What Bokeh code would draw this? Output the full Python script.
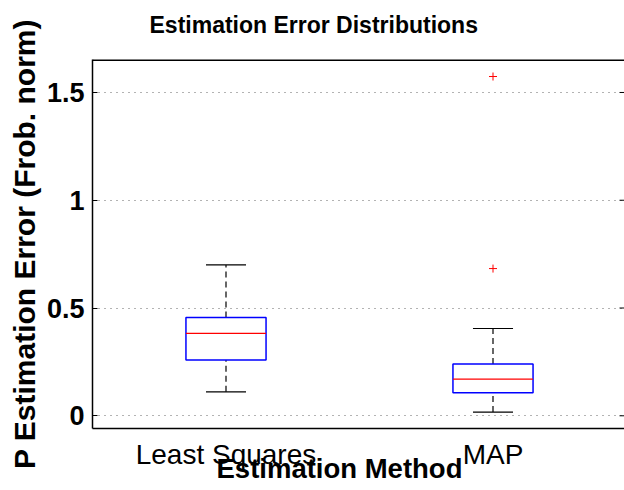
from bokeh.plotting import figure
from bokeh.models import FixedTicker, Range1d, Title, Span
from bokeh.embed import file_html
from bokeh.resources import INLINE

# ---- data ----
categories = ["Least Squares", "MAP"]
positions = [1, 2]
q1 = [0.259, 0.107]
medians = [0.382, 0.170]
q3 = [0.456, 0.240]
whisker_low = [0.111, 0.017]
whisker_high = [0.700, 0.405]
outlier_pos = [2, 2]
outlier_vals = [1.574, 0.683]
y_ticks = [0, 0.5, 1, 1.5]

FONT = "Liberation Sans"
BOX_HALF = 0.15
CAP_HALF = 0.075
FRAME_W = 532
X_START, X_END = 0.5, 0.5 + FRAME_W / 267
Y_START, Y_END = -0.059, 1.653

p = figure(width=624, height=490, output_backend="svg", toolbar_location=None,
           x_range=Range1d(X_START, X_END), y_range=Range1d(Y_START, Y_END),
           min_border_left=92, min_border_right=0, min_border_top=59, min_border_bottom=62)
# trailing blank line lifts the title higher above the frame
p.title = Title(text="Estimation Error Distributions\n", align="left", offset=57,
                vertical_align="bottom",
                text_font=FONT, text_font_size="23px", text_font_style="bold",
                text_color="black", standoff=-9)

p.background_fill_color = "white"
p.border_fill_color = "white"
p.outline_line_color = None
# top frame edge (the right edge lies outside the picture in the reference)
p.add_layout(Span(location=Y_END, dimension="width", line_color="black", line_width=3))

# grid
p.xgrid.visible = False
p.ygrid.ticker = FixedTicker(ticks=y_ticks)
p.ygrid.grid_line_color = "#666666"
p.ygrid.grid_line_dash = "1 5"
p.ygrid.grid_line_width = 1

# axes
p.xaxis.ticker = FixedTicker(ticks=positions)
p.xaxis.major_label_overrides = {pos: c for pos, c in zip(positions, categories)}
p.xaxis.major_tick_in = 0
p.xaxis.major_tick_out = 0
p.xaxis.minor_tick_line_color = None
p.xaxis.major_label_standoff = 10
p.xaxis.major_label_text_font = FONT
p.xaxis.major_label_text_font_size = "28px"
p.xaxis.major_label_text_color = "black"
p.xaxis.axis_line_width = 1.5

# x-axis title, placed as a title in the bottom panel so it can sit left of centre
p.add_layout(Title(text="Estimation Method", align="left", offset=124,
                   vertical_align="top", standoff=-40,
                   text_font=FONT, text_font_size="27.5px", text_font_style="bold",
                   text_color="black"), "below")

p.yaxis.ticker = FixedTicker(ticks=y_ticks)
p.yaxis.major_label_overrides = {0: "0", 0.5: "0.5", 1: "1", 1.5: "1.5"}
p.yaxis.major_tick_in = 5
p.yaxis.major_tick_out = 0
p.yaxis.minor_tick_line_color = None
p.yaxis.major_label_standoff = 8
p.yaxis.major_label_text_font = FONT
p.yaxis.major_label_text_font_size = "27px"
p.yaxis.major_label_text_font_style = "bold"
p.yaxis.major_label_text_color = "black"
p.yaxis.axis_label = "P Estimation Error (Frob. norm)"
p.yaxis.axis_label_text_font = FONT
p.yaxis.axis_label_text_font_size = "30px"
p.yaxis.axis_label_text_font_style = "bold"
p.yaxis.axis_label_text_color = "black"
p.yaxis.axis_label_standoff = 3
p.yaxis.axis_line_width = 1.5

# right-side inward ticks (box on)
tick_len = 5 * (X_END - X_START) / FRAME_W
p.segment(x0=[X_END - tick_len] * len(y_ticks), x1=[X_END] * len(y_ticks),
          y0=y_ticks, y1=y_ticks, line_color="black", line_width=1)

# whiskers (dashed)
p.segment(x0=positions, x1=positions, y0=q3, y1=whisker_high,
          line_color="black", line_dash="6 4", line_width=1.2)
p.segment(x0=positions, x1=positions, y0=whisker_low, y1=q1,
          line_color="black", line_dash="6 4", line_width=1.2)
# caps
p.segment(x0=[x - CAP_HALF for x in positions], x1=[x + CAP_HALF for x in positions],
          y0=whisker_high, y1=whisker_high, line_color="black", line_width=1.2)
p.segment(x0=[x - CAP_HALF for x in positions], x1=[x + CAP_HALF for x in positions],
          y0=whisker_low, y1=whisker_low, line_color="black", line_width=1.2)
# boxes
p.quad(left=[x - BOX_HALF for x in positions], right=[x + BOX_HALF for x in positions],
       bottom=q1, top=q3, fill_color=None, line_color="#0000ff", line_width=1.5)
# medians
p.segment(x0=[x - BOX_HALF for x in positions], x1=[x + BOX_HALF for x in positions],
          y0=medians, y1=medians, line_color="#ff0000", line_width=1.3)
# outliers
p.scatter(x=outlier_pos, y=outlier_vals, marker="cross", size=8,
          line_color="#ff0000", line_width=1)

open("out.html", "w").write(file_html(p, INLINE))
